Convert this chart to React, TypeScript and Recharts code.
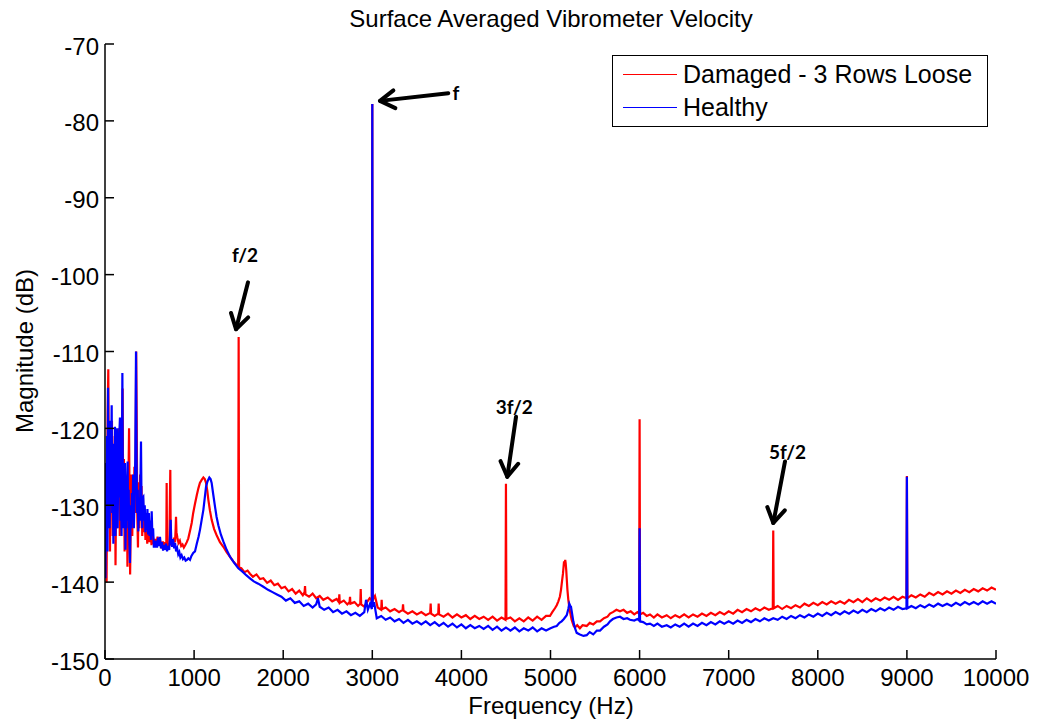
import React from "react";
import { LineChart, Line, XAxis, YAxis, ReferenceLine, ReferenceDot } from "recharts";

type Pt = [number, number];

const freqTicks = [0, 1000, 2000, 3000, 4000, 5000, 6000, 7000, 8000, 9000, 10000];
const dbTicks = [-150, -140, -130, -120, -110, -100, -90, -80, -70];

// Damaged - 3 Rows Loose, [Hz, dB]
const damagedLow: Pt[] = [
  [0, -125], [6, -133], [12, -124.5], [18, -140], [24, -127], [30, -118], [37, -112.3], [43, -128],
  [50, -121], [56, -136], [62, -123], [70, -131], [78, -119], [86, -134], [94, -125], [102, -130],
  [110, -121], [118, -137.8], [126, -127], [134, -133], [142, -122], [150, -130], [158, -120], [166, -134],
  [174, -126], [182, -132], [190, -121], [198, -114.8], [204, -130], [212, -124], [220, -136], [228, -126],
  [236, -132], [244, -127], [252, -138], [260, -129], [266, -124], [270, -120], [276, -130], [282, -139],
  [290, -131], [298, -126], [306, -134], [314, -127], [322, -132], [330, -125], [338, -131], [344, -122],
  [350, -110], [356, -119], [362, -131], [370, -135.5], [378, -127], [386, -133], [394, -126], [402, -131],
  [410, -127.5], [418, -134], [426, -129], [434, -133.5], [444, -130.5], [454, -134.5], [464, -131.5],
  [474, -135], [486, -132], [498, -134.8], [510, -133], [522, -135.2], [534, -133.6], [546, -135],
  [560, -134.4], [575, -135.3], [590, -134.1], [605, -135.2], [620, -134.6], [635, -135.6], [650, -134.7],
  [665, -135.5], [678, -134.8], [688, -135.3], [692, -127.1], [696, -135], [710, -135.6], [722, -134.9],
  [733, -125.4], [738, -135.2], [750, -134.5], [762, -135.3], [775, -134.2], [786, -134.8], [793, -133],
  [797, -131.5], [802, -133.5], [812, -134.2], [825, -134.9], [840, -134.6], [855, -135.3], [870, -135.1],
  [885, -135.5], [900, -135.2], [918, -134.8], [935, -134.3], [955, -133.3], [973, -132.3], [990, -131],
];

const damagedMid: Pt[] = [
  [1010, -129.8], [1030, -128.7], [1048, -127.8], [1065, -127.1], [1085, -126.7], [1104, -126.4],
  [1120, -126.6], [1134, -127.1], [1148, -128.1], [1160, -129.3], [1178, -130.7], [1197, -131.9],
  [1225, -133.1], [1253, -133.9], [1290, -134.8], [1328, -135.4], [1365, -136.1], [1403, -136.7],
  [1440, -137.3], [1478, -137.8], [1495, -138], [1500, -108.1], [1505, -138.1], [1530, -138.2],
  [1565, -138.7], [1600, -138.5], [1627, -138.9], [1660, -139.3], [1700, -139], [1740, -139.6],
  [1777, -139.5], [1820, -140.1], [1860, -139.8], [1900, -140.4], [1940, -140.2], [1980, -140.8],
  [2020, -140.6], [2060, -141.2], [2100, -140.9], [2140, -141.5], [2180, -141.1], [2220, -141.7],
  [2240, -141.3], [2245, -140.5], [2250, -141.6], [2290, -141.9], [2330, -141.5], [2370, -142.1],
  [2410, -141.8], [2450, -142.3], [2500, -142], [2550, -142.5], [2600, -142.2], [2625, -142.6],
  [2630, -141.6], [2635, -142.7], [2680, -142.4], [2720, -142.9], [2745, -142.6], [2750, -141.9],
  [2755, -142.8], [2800, -142.6], [2840, -143.1], [2865, -142.8], [2870, -140.9], [2875, -142.9],
  [2910, -143.2], [2940, -142.6], [2970, -142.1], [2995, -142.4], [3000, -77.8], [3005, -142.3],
  [3030, -141.8], [3060, -143.3], [3100, -143.6], [3105, -142.3], [3110, -143.5], [3150, -143.3],
  [3200, -143.8], [3250, -143.5], [3300, -143.9], [3340, -143.6], [3345, -142.9], [3350, -143.7],
  [3400, -144.1], [3450, -143.8], [3500, -144.2], [3550, -143.9], [3600, -144.3], [3650, -144],
  [3655, -142.8], [3660, -144.1], [3700, -144.4], [3740, -144.1], [3745, -142.8], [3750, -144.2],
  [3800, -144.5], [3850, -144.1], [3900, -144.6], [3950, -144.2], [4000, -144.6], [4050, -144.3],
  [4100, -144.8], [4150, -144.4], [4200, -144.8], [4250, -144.5], [4300, -144.9], [4350, -144.5],
  [4400, -145], [4450, -144.6], [4495, -144.9], [4500, -127.2], [4505, -144.8], [4550, -144.6],
  [4600, -145.1], [4650, -144.7], [4700, -145.1], [4750, -144.6], [4800, -145], [4850, -144.5],
  [4900, -144.9], [4950, -144.4], [4994, -144.4],
];

const damagedHigh: Pt[] = [
  [5020, -143.9], [5050, -143.4], [5070, -143], [5088, -142.5], [5105, -141.9], [5118, -141],
  [5130, -139.8], [5140, -138.9], [5152, -137.3], [5160, -137.8], [5165, -137.1], [5170, -137.5],
  [5177, -138.5], [5182, -139.5], [5190, -141], [5200, -142.3], [5215, -143.6], [5237, -144.9],
  [5260, -145.7], [5275, -145.9], [5300, -145.6], [5330, -146], [5360, -145.6], [5406, -145.7],
  [5440, -145.3], [5480, -145.5], [5520, -145.1], [5556, -145.1], [5600, -144.7], [5640, -144.5],
  [5668, -144.1], [5700, -143.9], [5740, -143.6], [5780, -143.8], [5820, -143.6], [5860, -144],
  [5900, -143.8], [5940, -144.2], [5975, -143.9], [5995, -144.1], [6000, -118.8], [6005, -144.2],
  [6040, -144], [6080, -144.4], [6117, -144.2], [6160, -144.6], [6200, -144.2], [6250, -144.6],
  [6304, -144.3], [6350, -144.7], [6400, -144.3], [6450, -144.6], [6500, -144.2], [6550, -144.6],
  [6600, -144.2], [6650, -144.5], [6700, -144.1], [6750, -144.4], [6800, -144], [6850, -144.3],
  [6900, -143.9], [6950, -144.2], [7000, -143.8], [7050, -144.1], [7100, -143.6], [7150, -143.9],
  [7200, -143.5], [7250, -143.8], [7300, -143.4], [7350, -143.7], [7400, -143.3], [7450, -143.6],
  [7495, -143.4], [7500, -133.3], [7505, -143.4], [7550, -143.1], [7600, -143.5], [7650, -143.1],
  [7700, -143.4], [7750, -143], [7800, -143.3], [7850, -142.8], [7900, -143.1], [7950, -142.7],
  [8000, -143], [8050, -142.6], [8100, -142.9], [8150, -142.5], [8200, -142.8], [8250, -142.5],
  [8300, -142.8], [8350, -142.3], [8400, -142.6], [8450, -142.2], [8500, -142.6], [8550, -142.1],
  [8600, -142.5], [8650, -142.1], [8700, -142.4], [8750, -142], [8800, -142.3], [8850, -141.9],
  [8900, -142.3], [8950, -141.9], [8995, -142.1], [9000, -126.2], [9005, -142.1], [9050, -141.7],
  [9100, -142], [9150, -141.6], [9200, -141.9], [9250, -141.4], [9300, -141.7], [9350, -141.3],
  [9400, -141.6], [9450, -141.2], [9500, -141.5], [9550, -141.1], [9600, -141.4], [9650, -141],
  [9700, -141.3], [9750, -140.9], [9800, -141.2], [9850, -140.8], [9900, -141.1], [9950, -140.7],
  [10000, -141],
];

// Healthy, [Hz, dB]
const healthyLow: Pt[] = [
  [0, -124.5], [5, -139.5], [10, -127], [16, -132], [22, -121], [28, -136], [34, -114.7], [40, -129],
  [46, -122], [52, -133], [58, -119], [64, -130], [70, -124], [75, -117], [81, -131], [88, -126],
  [94, -135], [100, -122], [106, -131], [112, -119.8], [118, -134], [124, -123], [130, -131], [136, -120],
  [142, -133], [148, -125], [154, -129], [160, -121], [168, -118.6], [174, -132], [180, -127], [186, -134],
  [190, -124], [195, -112.8], [200, -126], [206, -133], [212, -127], [218, -131], [224, -124.5],
  [230, -135.8], [236, -128], [242, -133], [248, -127], [254, -124.3], [260, -132], [266, -128],
  [272, -134], [280, -137.5], [288, -130], [296, -133], [302, -128.4], [308, -131], [316, -126],
  [324, -133], [332, -129], [340, -124], [348, -110], [354, -124], [360, -131], [368, -128],
  [374, -133.4], [382, -129], [390, -132], [398, -127], [404, -121.7], [410, -130], [418, -133],
  [424, -129], [430, -128.9], [438, -132], [446, -130], [454, -133.5], [462, -131], [468, -133.2],
  [476, -130.5], [484, -133.8], [492, -131], [500, -134], [508, -132], [516, -134.5], [524, -130.8],
  [532, -134], [540, -133], [548, -135.4], [561, -135.4], [572, -134.6], [584, -135.5], [596, -134.2],
  [608, -135.3], [617, -134.1], [628, -135.6], [640, -134.8], [652, -135.9], [664, -135.2],
  [673, -135.8], [684, -135], [696, -136], [708, -135.3], [720, -135.8], [730, -134], [737, -131.9],
  [744, -134.6], [754, -135.4], [764, -134.4], [776, -135.6], [786, -134.9], [798, -136], [810, -135.6],
  [822, -136.4], [834, -136.1], [846, -136.8], [860, -136.5], [875, -137], [890, -136.8], [905, -137.2],
  [920, -137.1], [935, -136.9], [954, -137.1], [970, -136.6], [990, -136.2],
];

const healthyMid: Pt[] = [
  [1010, -136], [1030, -135], [1050, -134.1], [1066, -133.2], [1085, -131.9], [1104, -130.6],
  [1120, -129], [1134, -127.6], [1150, -126.9], [1171, -126.4], [1185, -126.6], [1197, -127.1],
  [1215, -128.6], [1235, -130.2], [1252, -131.5], [1272, -132.6], [1300, -133.8], [1328, -134.7],
  [1365, -135.8], [1403, -136.7], [1450, -137.5], [1496, -138.2], [1540, -138.6], [1585, -139.1],
  [1627, -139.5], [1670, -139.9], [1720, -140.2], [1777, -140.6], [1830, -141], [1880, -141.3],
  [1930, -141.6], [1980, -141.9], [2030, -142.4], [2080, -142.1], [2130, -142.7], [2180, -142.5],
  [2230, -143.1], [2280, -142.8], [2330, -143.3], [2370, -142.9], [2390, -142.1], [2410, -143.2],
  [2460, -143.6], [2510, -143.3], [2560, -143.9], [2610, -143.6], [2660, -144.1], [2710, -143.8],
  [2760, -144.3], [2810, -144], [2860, -144.4], [2910, -143.9], [2930, -142.3], [2950, -143.6],
  [2975, -142.8], [2995, -143.5], [3000, -77.8], [3005, -143.2], [3020, -142.6], [3050, -144.7],
  [3100, -144.4], [3150, -144.9], [3200, -144.6], [3250, -145.1], [3300, -144.8], [3350, -145.3],
  [3400, -144.9], [3450, -145.4], [3500, -145.1], [3550, -145.5], [3600, -145.1], [3650, -145.6],
  [3700, -145.2], [3750, -145.7], [3800, -145.3], [3850, -145.8], [3900, -145.4], [3950, -145.9],
  [4000, -145.5], [4050, -146], [4100, -145.6], [4150, -146], [4200, -145.7], [4250, -146.1],
  [4300, -145.7], [4350, -146.2], [4400, -145.8], [4450, -146.3], [4500, -145.9], [4550, -146.3],
  [4600, -145.9], [4650, -146.4], [4700, -146], [4750, -146.3], [4800, -145.9], [4850, -146.4],
  [4900, -146], [4950, -146.3], [5000, -146],
];

const healthyHigh: Pt[] = [
  [5040, -145.8], [5070, -145.7], [5100, -145.3], [5125, -145.1], [5150, -144.8], [5182, -144.3],
  [5200, -143.5], [5211, -142.8], [5222, -143.1], [5230, -143.2], [5245, -144.3], [5256, -145.1],
  [5275, -146], [5294, -146.6], [5330, -146.8], [5370, -147], [5406, -146.9], [5440, -146.5],
  [5480, -146.8], [5520, -146.3], [5556, -146.3], [5600, -145.8], [5640, -145.5], [5668, -145.1],
  [5700, -144.8], [5740, -144.6], [5780, -144.5], [5820, -144.8], [5860, -144.7], [5892, -144.9],
  [5940, -145], [5975, -144.8], [5995, -145], [6000, -133], [6005, -145.1], [6040, -145.2],
  [6080, -145.5], [6117, -145.4], [6160, -145.7], [6200, -145.4], [6250, -145.8], [6304, -145.6],
  [6350, -145.9], [6400, -145.5], [6450, -145.8], [6500, -145.4], [6550, -145.8], [6600, -145.4],
  [6650, -145.7], [6700, -145.3], [6750, -145.6], [6800, -145.2], [6850, -145.5], [6900, -145.1],
  [6950, -145.4], [7000, -145.1], [7050, -145.4], [7100, -145], [7150, -145.3], [7200, -144.9],
  [7250, -145.2], [7300, -144.8], [7350, -145.1], [7400, -144.7], [7450, -145], [7500, -144.7],
  [7550, -144.9], [7600, -144.5], [7650, -144.8], [7700, -144.4], [7750, -144.7], [7800, -144.3],
  [7850, -144.6], [7900, -144.2], [7950, -144.5], [8000, -144.1], [8050, -144.4], [8100, -144],
  [8150, -144.3], [8200, -143.9], [8250, -144.2], [8300, -143.8], [8350, -144.1], [8400, -143.7],
  [8450, -144], [8500, -143.6], [8550, -143.9], [8600, -143.5], [8650, -143.8], [8700, -143.4],
  [8750, -143.7], [8800, -143.3], [8850, -143.6], [8900, -143.2], [8950, -143.5], [8995, -143.4],
  [9000, -126.3], [9005, -143.4], [9050, -143.1], [9100, -143.4], [9150, -143], [9200, -143.3],
  [9250, -142.9], [9300, -143.2], [9350, -142.8], [9400, -143.1], [9450, -142.8], [9500, -143.1],
  [9550, -142.7], [9600, -143], [9650, -142.6], [9700, -142.9], [9750, -142.6], [9800, -142.9],
  [9850, -142.5], [9900, -142.8], [9950, -142.5], [10000, -142.8],
];

const series = [
  { name: "Damaged - 3 Rows Loose", color: "#ff0000", points: [...damagedLow, ...damagedMid, ...damagedHigh] },
  { name: "Healthy", color: "#0000ff", points: [...healthyLow, ...healthyMid, ...healthyHigh] },
];

// arrow annotations: tail -> tip, label position (all in Hz / dB)
const annotations = [
  { text: "f/2", tail: [1605, -101] as Pt, tip: [1470, -107.1] as Pt, at: [1571, -97.4] as Pt, anchor: "middle" },
  { text: "f", tail: [3853, -76.4] as Pt, tip: [3086, -77.4] as Pt, at: [3900, -76.3] as Pt, anchor: "start" },
  { text: "3f/2", tail: [4613, -118.5] as Pt, tip: [4515, -126.3] as Pt, at: [4594, -117.2] as Pt, anchor: "middle" },
  { text: "5f/2", tail: [7632, -124.3] as Pt, tip: [7501, -132.3] as Pt, at: [7660, -123] as Pt, anchor: "middle" },
];

const FONT = "'Liberation Sans', Arial, Helvetica, sans-serif";
const W = 1038;
const H = 723;

const ArrowShape = (props: any) => {
  const { x1, y1, x2, y2 } = props;
  const a = Math.atan2(y2 - y1, x2 - x1);
  const len = 17;
  const spread = 0.55;
  const hx1 = x2 - len * Math.cos(a - spread);
  const hy1 = y2 - len * Math.sin(a - spread);
  const hx2 = x2 - len * Math.cos(a + spread);
  const hy2 = y2 - len * Math.sin(a + spread);
  return (
    <g stroke="#000" strokeWidth={4} fill="none" strokeLinecap="round" strokeLinejoin="round">
      <line x1={x1} y1={y1} x2={x2} y2={y2} />
      <polyline points={`${hx1},${hy1} ${x2},${y2} ${hx2},${hy2}`} />
    </g>
  );
};

const hideTick = () => <g />;

export default function App() {
  const axisStroke = { stroke: "#000", strokeWidth: 1.5 };
  const tickFont = { fontSize: 24, fill: "#000", fontFamily: FONT };
  return (
    <div style={{ position: "absolute", left: 0, top: 0, width: W, height: H, background: "#fff" }}>
      <LineChart width={W} height={H} margin={{ top: 44, right: 42, bottom: 34, left: 45 }}>
        <XAxis
          type="number"
          dataKey="f"
          domain={[0, 10000]}
          ticks={freqTicks}
          interval={0}
          allowDataOverflow
          height={30}
          axisLine={axisStroke}
          tickLine={axisStroke}
          tickSize={-9}
          tickMargin={19}
          tick={tickFont}
        />
        <XAxis
          xAxisId="top"
          orientation="top"
          type="number"
          domain={[0, 10000]}
          ticks={freqTicks}
          interval={0}
          height={0}
          axisLine={axisStroke}
          tickLine={axisStroke}
          tickSize={-9}
          tick={hideTick}
        />
        <YAxis
          type="number"
          domain={[-150, -70]}
          ticks={dbTicks}
          interval={0}
          allowDataOverflow
          width={60}
          axisLine={axisStroke}
          tickLine={axisStroke}
          tickSize={-9}
          tickMargin={15}
          tick={{ ...tickFont, dy: 2 }}
        />
        <YAxis
          yAxisId="right"
          orientation="right"
          type="number"
          domain={[-150, -70]}
          ticks={dbTicks}
          interval={0}
          width={0}
          axisLine={axisStroke}
          tickLine={axisStroke}
          tickSize={-9}
          tick={hideTick}
        />
        {series.map((s) => (
          <Line
            key={s.name}
            name={s.name}
            data={s.points.map(([f, db]) => ({ f, db }))}
            dataKey="db"
            type="linear"
            stroke={s.color}
            strokeWidth={2.2}
            dot={false}
            activeDot={false}
            isAnimationActive={false}
          />
        ))}
        {annotations.map((a) => (
          <ReferenceLine
            key={a.text + "-arrow"}
            segment={[{ x: a.tail[0], y: a.tail[1] }, { x: a.tip[0], y: a.tip[1] }]}
            shape={ArrowShape}
            ifOverflow="visible"
          />
        ))}
        {annotations.map((a) => (
          <ReferenceDot
            key={a.text + "-label"}
            x={a.at[0]}
            y={a.at[1]}
            ifOverflow="visible"
            shape={(p: any) => (
              <text
                x={p.cx}
                y={p.cy}
                textAnchor={a.anchor as any}
                dominantBaseline="central"
                fontFamily="Lato, 'Open Sans', sans-serif"
                fontWeight={700}
                fontSize={19}
                fill="#000"
              >
                {a.text}
              </text>
            )}
          />
        ))}
      </LineChart>
      <svg width={W} height={H} style={{ position: "absolute", left: 0, top: 0, pointerEvents: "none" }}>
        <text x={551} y={27} textAnchor="middle" fontFamily={FONT} fontSize={24} fill="#000">
          Surface Averaged Vibrometer Velocity
        </text>
        <text x={551} y={714} textAnchor="middle" fontFamily={FONT} fontSize={24} fill="#000">
          Frequency (Hz)
        </text>
        <text
          x={0}
          y={0}
          transform="translate(33, 351) rotate(-90)"
          textAnchor="middle"
          fontFamily={FONT}
          fontSize={24}
          fill="#000"
        >
          Magnitude (dB)
        </text>
      </svg>
      <div
        style={{
          position: "absolute",
          left: 612,
          top: 55,
          width: 376,
          height: 72,
          boxSizing: "border-box",
          border: "1.5px solid #000",
          background: "#fff",
          fontFamily: FONT,
          fontSize: 25,
          color: "#000",
        }}
      >
        {series.map((s, i) => (
          <div
            key={s.name}
            style={{ position: "absolute", left: 0, top: 2 + i * 33, height: 33, display: "flex", alignItems: "center" }}
          >
            <div style={{ marginLeft: 10, width: 54, height: 0, borderTop: `1.5px solid ${s.color}` }} />
            <span style={{ marginLeft: 6, whiteSpace: "nowrap", lineHeight: "33px" }}>{s.name}</span>
          </div>
        ))}
      </div>
    </div>
  );
}
